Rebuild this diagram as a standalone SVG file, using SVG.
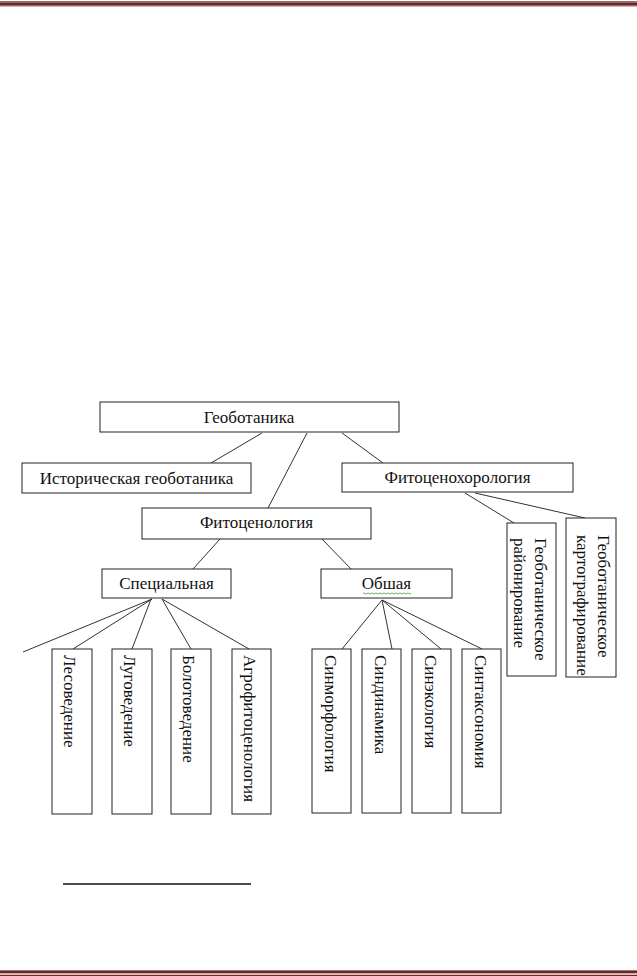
<svg xmlns="http://www.w3.org/2000/svg" width="637" height="976" viewBox="0 0 637 976">
<style>
.box{fill:#fff;stroke:#222;stroke-width:1}
.t{font-family:"Liberation Serif","Times New Roman",serif;font-size:17px;fill:#111}
.c{text-anchor:middle}
.ln{stroke:#333;stroke-width:1;fill:none}
</style>
<rect x="0" y="0" width="637" height="976" fill="#fff"/>
<g id="frame">
<rect x="0" y="1" width="637" height="1" fill="#a06a6a"/>
<rect x="0" y="2.3" width="637" height="3.4" fill="#6a2a2a"/>
<rect x="0" y="6" width="637" height="0.8" fill="#c8a4a4"/>
<rect x="0" y="970" width="637" height="0.8" fill="#b08080"/>
<rect x="0" y="970.7" width="637" height="2.7" fill="#6a2a2a"/>
<rect x="0" y="973.7" width="637" height="1" fill="#d8a8a8"/>
<rect x="0" y="975" width="637" height="1" fill="#6a2a2a"/>
</g>
<g id="connectors">
<line class="ln" x1="262" y1="433" x2="211" y2="463"/>
<line class="ln" x1="307" y1="433" x2="268" y2="508"/>
<line class="ln" x1="342" y1="433" x2="383" y2="463"/>
<line class="ln" x1="465" y1="493" x2="514" y2="523"/>
<line class="ln" x1="475" y1="493" x2="585" y2="518"/>
<line class="ln" x1="220" y1="539" x2="193" y2="569"/>
<line class="ln" x1="322" y1="539" x2="351" y2="569"/>
<line class="ln" x1="152" y1="599" x2="23" y2="652"/>
<line class="ln" x1="152" y1="599" x2="73" y2="649"/>
<line class="ln" x1="151" y1="599" x2="132" y2="649"/>
<line class="ln" x1="162" y1="599" x2="191" y2="649"/>
<line class="ln" x1="162" y1="599" x2="249" y2="649"/>
<line class="ln" x1="382" y1="600" x2="342" y2="649"/>
<line class="ln" x1="382" y1="600" x2="392" y2="649"/>
<line class="ln" x1="382" y1="600" x2="441" y2="649"/>
<line class="ln" x1="382" y1="600" x2="482" y2="649"/>
</g>
<g id="geobotanika">
<rect class="box" x="100" y="402" width="299" height="30"/>
<text class="t c" x="249" y="423">Геоботаника</text>
</g>
<g id="istoricheskaya">
<rect class="box" x="22" y="463" width="229" height="30"/>
<text class="t c" x="136.5" y="484">Историческая геоботаника</text>
</g>
<g id="fitocenohorologiya">
<rect class="box" x="342" y="463" width="231" height="29"/>
<text class="t c" x="457.5" y="483">Фитоценохорология</text>
</g>
<g id="fitocenologiya">
<rect class="box" x="142" y="508" width="229" height="31"/>
<text class="t c" x="256.5" y="528">Фитоценология</text>
</g>
<g id="specialnaya">
<rect class="box" x="102" y="569" width="129" height="29"/>
<text class="t c" x="166.5" y="589">Специальная</text>
</g>
<g id="obshaya">
<rect class="box" x="321" y="569" width="131" height="29"/>
<text class="t c" x="386.5" y="589">Обшая</text>
<path d="M363 593.5 q1 -1.2 2 0 t2 0 t2 0 t2 0 t2 0 t2 0 t2 0 t2 0 t2 0 t2 0 t2 0 t2 0 t2 0 t2 0 t2 0 t2 0 t2 0 t2 0 t2 0 t2 0 t2 0 t2 0 t2 0 t2 0" fill="none" stroke="#3a9a3a" stroke-width="0.8"/>
</g>
<g id="rayonirovanie">
<rect class="box" x="507" y="523" width="49" height="153"/>
<text class="t" transform="translate(535,538) rotate(90)"><tspan x="0" y="0">Геоботаническое</tspan><tspan x="0" y="21">районирование</tspan></text>
</g>
<g id="kartografirovanie">
<rect class="box" x="566" y="518" width="50" height="159"/>
<text class="t" transform="translate(598,535) rotate(90)"><tspan x="0" y="0">Геоботаническое</tspan><tspan x="0" y="21">картографирование</tspan></text>
</g>
<g id="lesovedenie">
<rect class="box" x="52" y="649" width="40" height="165"/>
<text class="t" transform="translate(64,655) rotate(90)">Лесоведение</text>
</g>
<g id="lugovedenie">
<rect class="box" x="112" y="649" width="40" height="165"/>
<text class="t" transform="translate(124,655) rotate(90)">Луговедение</text>
</g>
<g id="bolotovedenie">
<rect class="box" x="171" y="649" width="40" height="165"/>
<text class="t" transform="translate(183,655) rotate(90)">Болотоведение</text>
</g>
<g id="agrofitocenologiya">
<rect class="box" x="232" y="649" width="39" height="165"/>
<text class="t" transform="translate(244,655) rotate(90)">Агрофитоценология</text>
</g>
<g id="sinmorfologiya">
<rect class="box" x="312" y="649" width="39" height="164"/>
<text class="t" transform="translate(325,655) rotate(90)">Синморфология</text>
</g>
<g id="sindinamika">
<rect class="box" x="362" y="649" width="39" height="164"/>
<text class="t" transform="translate(375,655) rotate(90)">Синдинамика</text>
</g>
<g id="sinekologiya">
<rect class="box" x="412" y="649" width="39" height="164"/>
<text class="t" transform="translate(425,655) rotate(90)">Синэкология</text>
</g>
<g id="sintaksonomiya">
<rect class="box" x="462" y="649" width="39" height="164"/>
<text class="t" transform="translate(475,655) rotate(90)">Синтаксономия</text>
</g>
<g id="footnote-rule">
<line x1="63" y1="884" x2="251" y2="884" stroke="#111" stroke-width="1.3"/>
</g>
</svg>
